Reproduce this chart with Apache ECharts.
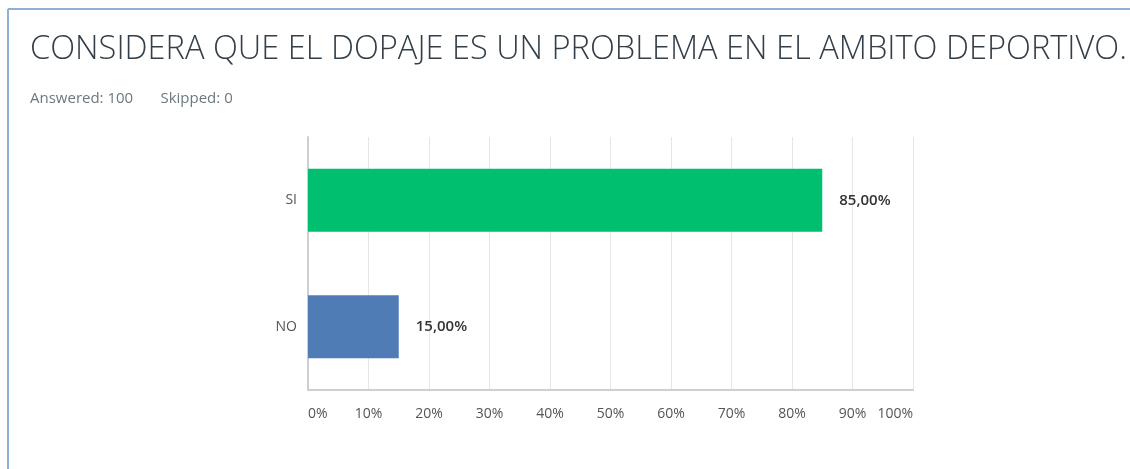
<!DOCTYPE html>
<html>
<head>
<meta charset="utf-8">
<script src="https://cdn.jsdelivr.net/npm/echarts@6/dist/echarts.min.js"></script>
<style>
  html, body { margin: 0; padding: 0; background: #fff; }
  #chart { width: 1130px; height: 469px; }
</style>
</head>
<body>
<div id="chart"></div>
<script>
// datos de la encuesta
const categories = ['NO', 'SI'];
const percentValues = [15, 85];
const barColors = ['#507cb6', '#00bf6f'];
const tickLabels = ['0%', '10%', '20%', '30%', '40%', '50%', '60%', '70%', '80%', '90%', '100%'];
const titleText = 'CONSIDERA QUE EL DOPAJE ES UN PROBLEMA EN EL AMBITO DEPORTIVO.';
const subText = 'Answered: 100       Skipped: 0';

var chart = echarts.init(document.getElementById('chart'), null, { renderer: 'canvas' });

var option = {
  animation: false,
  title: {
    text: titleText,
    subtext: subText,
    left: 25,
    top: 28,
    itemGap: 25,
    textStyle: {
      fontFamily: 'Open Sans',
      fontWeight: 300,
      fontSize: 32.6,
      color: '#333e48'
    },
    subtextStyle: {
      fontFamily: 'Open Sans',
      fontSize: 15,
      color: '#6b787f'
    }
  },
  graphic: [
    // marco de la tarjeta
    { type: 'line', shape: { x1: 8, y1: 9, x2: 1130, y2: 9 }, style: { stroke: '#8eb0d4', lineWidth: 2 } },
    { type: 'line', shape: { x1: 8, y1: 9, x2: 8, y2: 469 }, style: { stroke: '#8eb0d4', lineWidth: 2 } }
  ],
  grid: {
    left: 308,
    right: 217,
    top: 137,
    bottom: 79
  },
  xAxis: {
    type: 'value',
    min: 0,
    max: 100,
    interval: 10,
    axisLine: { show: true, lineStyle: { color: '#cfcfcf', width: 2 } },
    axisTick: { show: false },
    splitLine: { show: true, lineStyle: { color: '#e6e6e6', width: 1 } },
    axisLabel: {
      margin: 17,
      color: '#555',
      fontFamily: 'Open Sans',
      fontSize: 14,
      alignMinLabel: 'left',
      alignMaxLabel: 'right',
      formatter: function (v) { return tickLabels[Math.round(v / 10)]; }
    }
  },
  yAxis: {
    type: 'category',
    data: categories,
    axisLine: { show: true, lineStyle: { color: '#cfcfcf', width: 2 } },
    axisTick: { show: false },
    axisLabel: {
      margin: 11,
      color: '#555',
      fontFamily: 'Open Sans',
      fontSize: 14
    }
  },
  series: [
    {
      type: 'bar',
      barWidth: 63,
      data: percentValues.map(function (v, i) {
        return { value: v, itemStyle: { color: barColors[i] } };
      }),
      label: {
        show: true,
        position: 'right',
        distance: 17,
        color: '#333',
        fontFamily: 'Open Sans',
        fontSize: 15,
        fontWeight: 600,
        formatter: function (p) { return p.value.toFixed(2).replace('.', ',') + '%'; }
      }
    }
  ]
};

chart.setOption(option);
window.addEventListener('resize', chart.resize);
</script>
</body>
</html>
